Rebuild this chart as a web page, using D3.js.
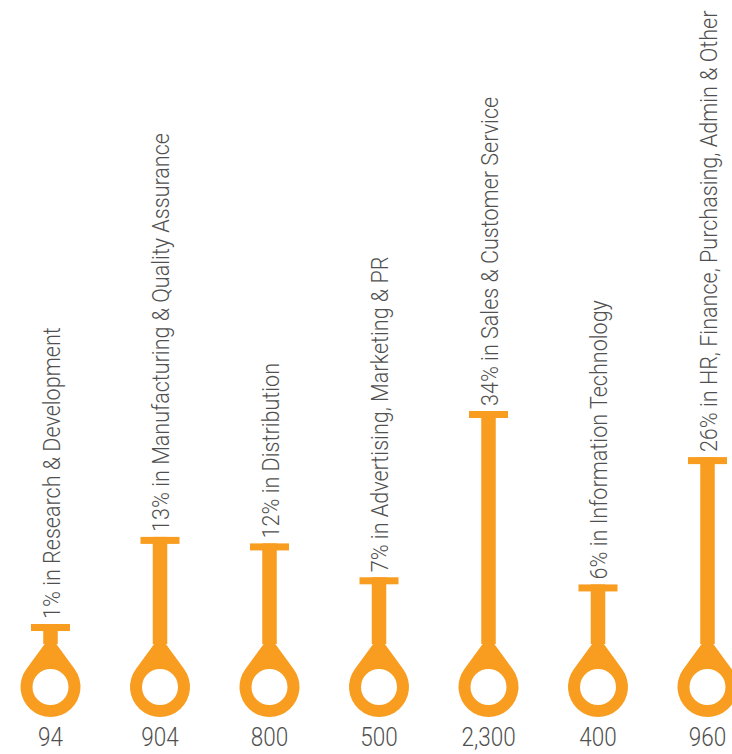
<!DOCTYPE html>
<html>
<head>
<meta charset="utf-8">
<script src="https://cdn.jsdelivr.net/npm/d3@7"></script>
<style>
  html, body { margin: 0; padding: 0; background: #fff; }
  svg { display: block; }
  text { font-family: "Roboto", "Liberation Sans", sans-serif; font-weight: 300; fill: #505050; }
</style>
</head>
<body>
<div id="chart"></div>
<script>
// Workforce by function: share of staff and headcount per department
const categories = [
  "Research & Development",
  "Manufacturing & Quality Assurance",
  "Distribution",
  "Advertising, Marketing & PR",
  "Sales & Customer Service",
  "Information Technology",
  "HR, Finance, Purchasing, Admin & Other"
];
const shares = [1, 13, 12, 7, 34, 6, 26];          // percent of staff
const headcounts = [94, 904, 800, 500, 2300, 400, 960];

const width = 732, height = 754;
const orange = "#F89D1F";
const narrow = 0.88;   // horizontal squeeze for a condensed look

const rows = categories.map((c, i) => ({ category: c, share: shares[i], count: headcounts[i] }));

const svg = d3.select("#chart").append("svg")
  .attr("width", width).attr("height", height);

// horizontal placement of each pin
const x = d3.scalePoint().domain(categories).range([50.5, 707.5]);

// vertical position of the stem's cap from the share
const y = d3.scalePow().exponent(0.86).domain([1, 34]).range([624, 411]);

const ringY = 687, ringR = 30, holeR = 18, apexDist = 51;
const stemW = 14.5, capW = 39, capH = 7;

// teardrop: a circle with two tangent lines meeting at an apex above it
function dropPath(cx) {
  const phi = Math.acos(ringR / apexDist);
  const tx = ringR * Math.sin(phi), ty = ringR * Math.cos(phi);
  const p = d3.path();
  p.moveTo(cx, ringY - apexDist);
  p.lineTo(cx + tx, ringY - ty);
  p.arc(cx, ringY, ringR, -Math.PI / 2 + phi, -Math.PI / 2 - phi + 2 * Math.PI, false);
  p.closePath();
  // hole
  p.moveTo(cx + holeR, ringY);
  p.arc(cx, ringY, holeR, 0, 2 * Math.PI, true);
  p.closePath();
  return p.toString();
}

const pin = svg.selectAll("g.pin").data(rows).join("g").attr("class", "pin");

pin.append("rect")
  .attr("x", d => x(d.category) - stemW / 2)
  .attr("y", d => y(d.share))
  .attr("width", stemW)
  .attr("height", d => ringY - apexDist + 8 - y(d.share))
  .attr("fill", orange);

pin.append("rect")
  .attr("x", d => x(d.category) - capW / 2)
  .attr("y", d => y(d.share))
  .attr("width", capW)
  .attr("height", capH)
  .attr("fill", orange);

pin.append("path")
  .attr("d", d => dropPath(x(d.category)))
  .attr("fill", orange)
  .attr("fill-rule", "evenodd");

// department label, reading upward from the cap
pin.append("text")
  .attr("transform", d => `translate(${x(d.category) + 9},${y(d.share) - 5}) rotate(-90) scale(${narrow},1)`)
  .attr("font-size", 24.5)
  .text(d => `${d.share}% in ${d.category}`);

// headcount beneath each ring
pin.append("text")
  .attr("transform", d => `translate(${x(d.category)},746) scale(0.9,1)`)
  .attr("text-anchor", "middle")
  .attr("font-size", 25)
  .text(d => d3.format(",")(d.count));
</script>
</body>
</html>
